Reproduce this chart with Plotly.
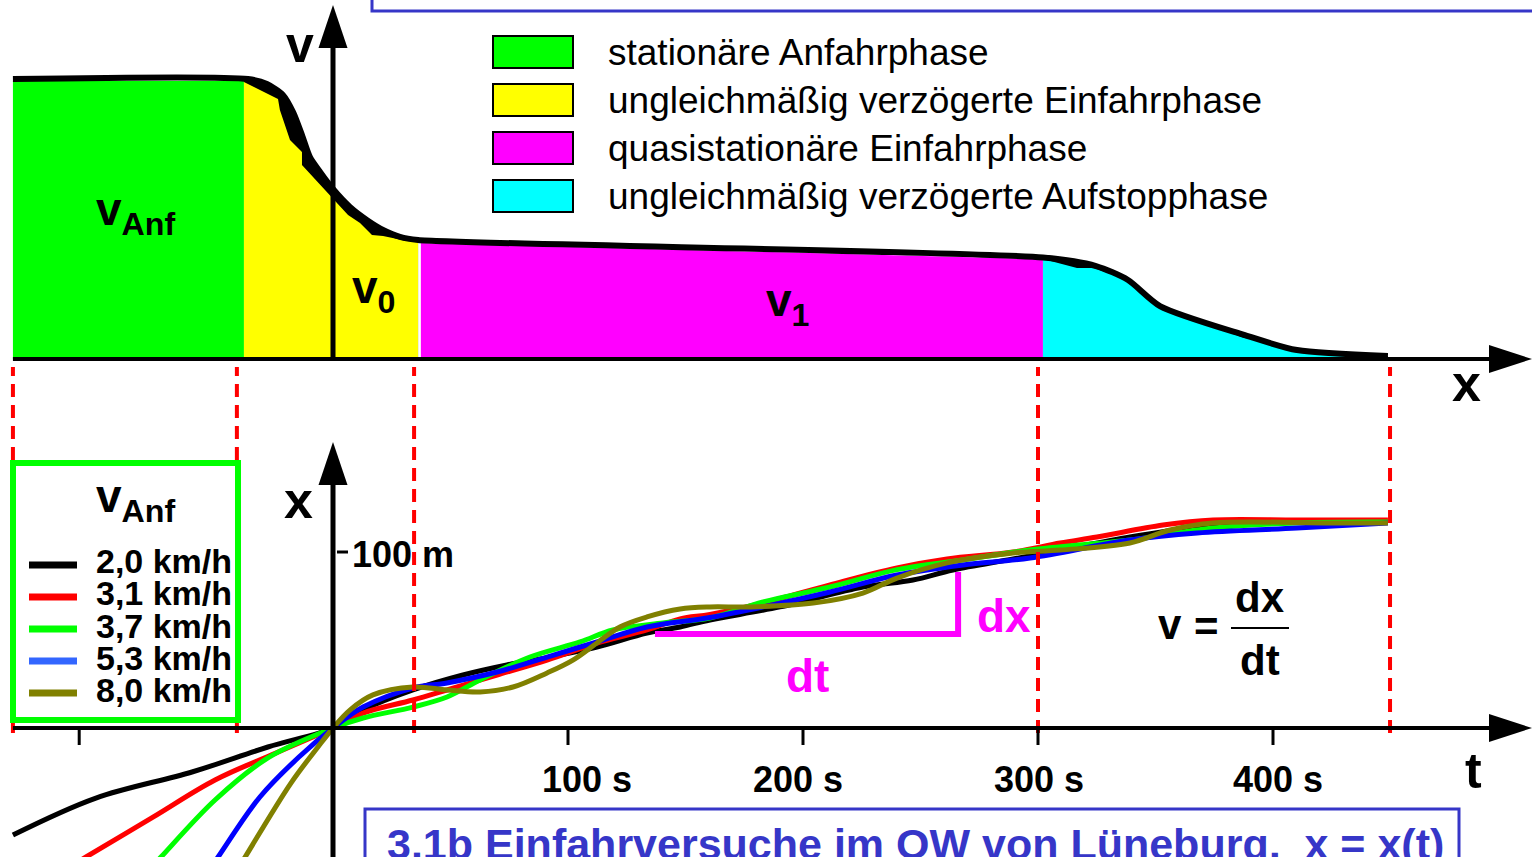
import numpy as np
import plotly.graph_objects as go

W, H = 1532, 857
FONT = "Liberation Sans, Arial, Helvetica, sans-serif"
BLUE_FRAME = "#3636c8"

# axis calibration: origin pixel and pixels per unit
T0_PX, PX_PER_S = 333, 2.35      # time axis (s), shared by both panels
X0_PX, PX_PER_M = 728, 1.76      # distance axis x (m), lower panel
V0_PX, PX_PER_V = 359, 280.0     # velocity (relative to v_Anf), upper panel

T_RANGE = [-T0_PX / PX_PER_S, (W - T0_PX) / PX_PER_S]
X_RANGE = [-(H - X0_PX) / PX_PER_M, X0_PX / PX_PER_M]
V_RANGE = [-(H - V0_PX) / PX_PER_V, V0_PX / PX_PER_V]

# ---------------- phases of the run ----------------
PHASE_NAMES = [
    "stationäre Anfahrphase",
    "ungleichmäßig verzögerte Einfahrphase",
    "quasistationäre Einfahrphase",
    "ungleichmäßig verzögerte Aufstopphase",
]
PHASE_COLORS = ["#00ff00", "#ffff00", "#ff00ff", "#00ffff"]
PHASE_BOUNDS_T = [-136.2, -40.9, 34.5, 300.0, 449.8]

# velocity profile (outline), v relative to v_Anf
PROFILE_T = [-136.2, -36.2, -28.1, -21.3, -17.0, -13.2, -9.8, -5.5, 0.0, 7.2, 14.5,
             21.3, 28.5, 36.2, 302.1, 324.7, 338.3, 351.9, 387.7, 410.2, 448.9]
PROFILE_V = [1.0, 1.0, 0.982, 0.943, 0.882, 0.8, 0.721, 0.668, 0.607, 0.543, 0.496,
             0.461, 0.436, 0.425, 0.3625, 0.332, 0.282, 0.189, 0.086, 0.032, 0.011]

# filled areas of the four phases
GREEN_T = [-136.2, -37.9]
GREEN_V = [0.993, 0.993]
YELLOW_T = [-37.9, -23.4, -22.6, -18.3, -13.2, -13.2, 6.4, 11.5, 16.6, 21.3, 31.5, 36.2]
YELLOW_V = [0.989, 0.929, 0.889, 0.782, 0.739, 0.693, 0.514, 0.486, 0.443, 0.439, 0.421, 0.418]
MAGENTA_T = [37.4, 302.1]
MAGENTA_V = [0.414, 0.357]
CYAN_T = [302.1, 316.6, 323.8, 338.3, 351.9, 387.7, 395.3, 408.5, 448.9]
CYAN_V = [0.357, 0.325, 0.325, 0.282, 0.186, 0.075, 0.071, 0.025, 0.007]

# ---------------- x(t) runs for different approach speeds ----------------
V_ANF_LABELS = ["2,0 km/h", "3,1 km/h", "3,7 km/h", "5,3 km/h", "8,0 km/h"]
CURVE_COLORS = ["#000000", "#ff0000", "#00ff00", "#0000ff", "#808000"]
KEY_COLORS = ["#000000", "#ff0000", "#00ff00", "#3366ff", "#808000"]

T_20 = [-136.2, -100.9, -60.0, -27.7, 0.0, 12.8, 34.0, 55.3, 74.0, 91.1, 112.3, 133.6,
        147.7, 160.4, 190.2, 225.5, 246.8, 263.8, 289.4, 309.4, 339.1, 367.7, 395.7, 448.9]
X_20 = [-60.8, -39.8, -25.0, -10.8, 0.0, 10.2, 21.6, 30.1, 35.8, 40.0, 46.0, 54.0,
        57.4, 61.4, 68.8, 80.1, 84.1, 89.8, 96.0, 101.0, 108.5, 114.2, 117.0, 117.0]

T_31 = [-112.0, -105.1, -76.6, -50.2, -24.3, 0.0, 12.8, 34.0, 48.5, 69.8, 91.1, 112.3,
        133.6, 147.7, 160.4, 183.0, 211.5, 240.0, 261.3, 289.4, 309.4, 325.1, 353.2,
        374.5, 410.2, 448.9]
X_31 = [-78.8, -73.3, -50.6, -29.5, -14.2, 0.0, 8.5, 15.9, 21.6, 30.1, 38.6, 48.3,
        55.7, 62.0, 64.5, 71.0, 81.3, 90.9, 96.0, 100.0, 105.1, 108.5, 115.3,
        118.2, 118.2, 118.2]

T_37 = [-77.5, -73.2, -50.2, -27.7, 0.0, 12.8, 34.0, 48.5, 62.6, 83.8, 105.1, 119.1,
        140.4, 160.4, 183.0, 211.5, 240.0, 268.1, 296.6, 339.1, 374.5, 410.2, 448.9]
X_37 = [-79.4, -73.3, -40.9, -17.0, 0.0, 5.7, 11.9, 17.6, 27.3, 40.3, 48.9, 55.7,
        59.7, 62.5, 71.6, 80.1, 90.0, 95.5, 101.1, 106.8, 113.6, 116.5, 117.0]

T_53 = [-52.0, -48.9, -31.1, -14.5, 0.0, 12.8, 34.0, 48.5, 69.8, 91.1, 112.3, 133.6,
        160.4, 183.0, 211.5, 240.0, 268.1, 296.6, 339.1, 367.7, 410.2, 448.9]
X_53 = [-79.2, -73.3, -39.2, -16.5, 0.0, 11.9, 22.7, 25.6, 31.8, 40.3, 48.9, 57.4,
        62.8, 68.8, 77.3, 86.9, 92.6, 96.6, 106.8, 110.8, 113.6, 116.5]

T_80 = [-40.0, -37.4, -17.9, -6.4, 0.0, 7.2, 17.0, 34.0, 48.5, 62.6, 76.6, 91.1, 102.1,
        112.3, 122.1, 133.6, 147.7, 160.4, 177.4, 204.3, 225.5, 240.0, 261.3, 289.4,
        309.4, 339.1, 356.2, 374.5, 424.3, 448.9]
X_80 = [-78.9, -73.3, -31.3, -10.8, 0.0, 10.2, 18.8, 23.3, 21.6, 20.5, 23.3, 31.3, 38.6,
        48.3, 57.4, 63.1, 67.6, 68.8, 68.8, 71.0, 76.7, 85.2, 93.8, 99.4,
        101.1, 105.1, 112.5, 116.5, 116.5, 116.5]

RUNS = [(T_20, X_20), (T_31, X_31), (T_37, X_37), (T_53, X_53), (T_80, X_80)]

# axis ticks
TICK_T = [-108, 100, 200, 300, 400]
TICK_TEXT = ["", "100 s", "200 s", "300 s", "400 s"]
X_TICK_M = 100
X_TICK_TEXT = "100 m"

# slope triangle dx / dt
DT_T = [137.0, 266.0]
DX_M = [53.4, 88.6]

TITLE = "3.1b Einfahrversuche im OW von Lüneburg,\u00a0\u00a0x = x(t)"


def fx(px):
    return px / W


def fy(py):
    return 1 - py / H


fig = go.Figure()


def profile_section(t0, t1):
    pt = np.array(PROFILE_T)
    pv = np.array(PROFILE_V)
    inner = (pt > t0) & (pt < t1)
    ts = np.concatenate([[t0], pt[inner], [t1]])
    return ts, np.interp(ts, pt, pv)


# dark backing under the sloped phases (shows where the fill falls below the outline)
for t0, t1 in [(YELLOW_T[0], YELLOW_T[-1]), (CYAN_T[0], CYAN_T[-1])]:
    ts, vs = profile_section(t0, t1)
    fig.add_trace(go.Scatter(x=ts, y=vs, yaxis="y2", mode="lines",
                             line=dict(width=0, shape="spline", smoothing=0.7),
                             fill="tozeroy", fillcolor="black", hoverinfo="skip"))

for (ts, vs), col in zip([(GREEN_T, GREEN_V), (YELLOW_T, YELLOW_V),
                          (MAGENTA_T, MAGENTA_V), (CYAN_T, CYAN_V)], PHASE_COLORS):
    fig.add_trace(go.Scatter(x=ts, y=vs, yaxis="y2", mode="lines", line=dict(width=0),
                             fill="tozeroy", fillcolor=col, hoverinfo="skip"))

fig.add_trace(go.Scatter(x=PROFILE_T, y=PROFILE_V, yaxis="y2", mode="lines",
                         line=dict(color="black", width=6, shape="spline", smoothing=0.7),
                         hoverinfo="skip"))

# x(t) curves
for (ts, xs), col, name in zip(RUNS, CURVE_COLORS, V_ANF_LABELS):
    fig.add_trace(go.Scatter(x=ts, y=xs, mode="lines", name=name,
                             line=dict(color=col, width=5, shape="spline", smoothing=1.0),
                             hoverinfo="skip"))

# slope triangle
fig.add_trace(go.Scatter(x=[DT_T[0], DT_T[1], DT_T[1]], y=[DX_M[0], DX_M[0], DX_M[1]],
                         mode="lines", line=dict(color="#ff00ff", width=6), hoverinfo="skip"))

shapes = []
# phase boundary markers
for t in PHASE_BOUNDS_T:
    shapes.append(dict(type="line", xref="x", yref="paper", x0=t, x1=t,
                       y0=fy(733), y1=fy(367), layer="above",
                       line=dict(color="#ff0000", width=4, dash="13px,8px")))

T_AXIS_END = (1489 - T0_PX) / PX_PER_S
V_AXIS_END = (V0_PX - 48) / PX_PER_V
X_AXIS_END = (X0_PX - 485) / PX_PER_M


def arrow(xanchor, yanchor, yref, direction):
    path = "M0,14 L43,0 L0,-14 Z" if direction == "right" else "M-14.5,0 L14.5,0 L0,43 Z"
    return dict(type="path", xref="x", yref=yref, xsizemode="pixel", ysizemode="pixel",
                xanchor=xanchor, yanchor=yanchor, path=path, fillcolor="black",
                line=dict(width=0), layer="above")


# upper panel axes
shapes.append(dict(type="line", xref="x", yref="y2", x0=PHASE_BOUNDS_T[0], x1=T_AXIS_END,
                   y0=0, y1=0, line=dict(color="black", width=4), layer="above"))
shapes.append(arrow(T_AXIS_END, 0, "y2", "right"))
shapes.append(dict(type="line", xref="x", yref="y2", x0=0, x1=0, y0=0, y1=V_AXIS_END,
                   line=dict(color="black", width=5), layer="above"))
shapes.append(arrow(0, V_AXIS_END, "y2", "up"))
# lower panel axes
shapes.append(dict(type="line", xref="x", yref="y", x0=PHASE_BOUNDS_T[0], x1=T_AXIS_END,
                   y0=0, y1=0, line=dict(color="black", width=4), layer="above"))
shapes.append(arrow(T_AXIS_END, 0, "y", "right"))
shapes.append(dict(type="line", xref="x", yref="y", x0=0, x1=0, y0=X_RANGE[0] - 5,
                   y1=X_AXIS_END, line=dict(color="black", width=5), layer="above"))
shapes.append(arrow(0, X_AXIS_END, "y", "up"))
for t in TICK_T:
    shapes.append(dict(type="line", xref="x", yref="y", ysizemode="pixel", yanchor=0,
                       x0=t, x1=t, y0=0, y1=-17, line=dict(color="black", width=3),
                       layer="above"))
shapes.append(dict(type="line", xref="x", yref="y", xsizemode="pixel", xanchor=0,
                   x0=4, x1=15, y0=X_TICK_M, y1=X_TICK_M,
                   line=dict(color="black", width=3), layer="above"))

# frames
shapes.append(dict(type="rect", xref="paper", yref="paper", x0=fx(372), x1=fx(1545),
                   y0=fy(11), y1=fy(-20), line=dict(color=BLUE_FRAME, width=3),
                   fillcolor="rgba(0,0,0,0)", layer="above"))
shapes.append(dict(type="rect", xref="paper", yref="paper", x0=fx(365), x1=fx(1459),
                   y0=fy(880), y1=fy(809), line=dict(color=BLUE_FRAME, width=3),
                   fillcolor="rgba(0,0,0,0)", layer="above"))
# legend frame for the runs
shapes.append(dict(type="rect", xref="paper", yref="paper", x0=fx(13), x1=fx(238),
                   y0=fy(720), y1=fy(463), line=dict(color="#00ff00", width=6),
                   fillcolor="white", layer="above"))
for i, col in enumerate(KEY_COLORS):
    yk = 565 + 32 * i
    shapes.append(dict(type="line", xref="paper", yref="paper", x0=fx(29), x1=fx(77),
                       y0=fy(yk), y1=fy(yk), line=dict(color=col, width=7), layer="above"))
# phase legend swatches
for i, col in enumerate(PHASE_COLORS):
    top = 36 + 48 * i
    shapes.append(dict(type="rect", xref="paper", yref="paper", x0=fx(493), x1=fx(573),
                       y0=fy(top + 32), y1=fy(top), fillcolor=col,
                       line=dict(color="black", width=2), layer="above"))
# fraction bar of v = dx/dt
shapes.append(dict(type="line", xref="paper", yref="paper", x0=fx(1231), x1=fx(1289),
                   y0=fy(628), y1=fy(628), line=dict(color="black", width=2), layer="above"))

annotations = []


def label(s, baseline, size, left=None, center=None, color="black", bold=True,
          xref="paper", xval=None, xshift=0):
    ann = dict(text=s, showarrow=False, yref="paper", yanchor="top",
               y=fy(baseline - 0.905 * size - 1), borderpad=0, xshift=xshift,
               font=dict(family=FONT, size=size, color=color,
                         weight="bold" if bold else "normal"))
    if xval is not None:
        ann.update(xref=xref, x=xval, xanchor="center")
    elif center is not None:
        ann.update(xref="paper", x=fx(center), xanchor="center")
    else:
        ann.update(xref="paper", x=fx(left - 2), xanchor="left")
    annotations.append(ann)


# axis names
label("v", 62, 50, left=287)
label("x", 401, 52, left=1453)
label("x", 518, 52, left=285)
label("t", 788, 50, left=1466)
# speeds in the velocity profile
label("v<sub>Anf</sub>", 225, 46, left=97)
label("v<sub>0</sub>", 303, 46, left=353)
label("v<sub>1</sub>", 316, 46, left=767)
# phase legend
for i, name in enumerate(PHASE_NAMES):
    label(name, 65 + 48 * i, 37, left=609, bold=False)
# run legend
label("v<sub>Anf</sub>", 512, 46, left=97)
for i, name in enumerate(V_ANF_LABELS):
    label(name, 573 + 32.2 * i, 34, left=97)
# ticks (labels sit slightly right of the 100 s mark)
TICK_LABEL_SHIFT = [0, 19, -5, 1, 5]
for t, s, dx in zip(TICK_T, TICK_TEXT, TICK_LABEL_SHIFT):
    if s:
        label(s, 792, 36, xref="x", xval=t, xshift=dx)
label(X_TICK_TEXT, 567, 36, left=353)
# slope triangle and formula
label("dx", 632, 46, left=978, color="#ff00ff")
label("dt", 692, 46, left=787, color="#ff00ff")
label("v", 639, 42, left=1159)
label("=", 641, 42, center=1206)
label("dx", 612, 42, center=1260)
label("dt", 675, 42, center=1260)
# caption
label(TITLE, 859, 43, left=388, color=BLUE_FRAME)

fig.update_layout(
    width=W, height=H, margin=dict(l=0, r=0, t=0, b=0),
    paper_bgcolor="white", plot_bgcolor="white", showlegend=False,
    xaxis=dict(range=T_RANGE, visible=False, fixedrange=True),
    yaxis=dict(range=X_RANGE, visible=False, fixedrange=True),
    yaxis2=dict(range=V_RANGE, visible=False, overlaying="y", fixedrange=True),
    shapes=shapes, annotations=annotations,
)

fig.write_html("out.html", config={"displayModeBar": False})
